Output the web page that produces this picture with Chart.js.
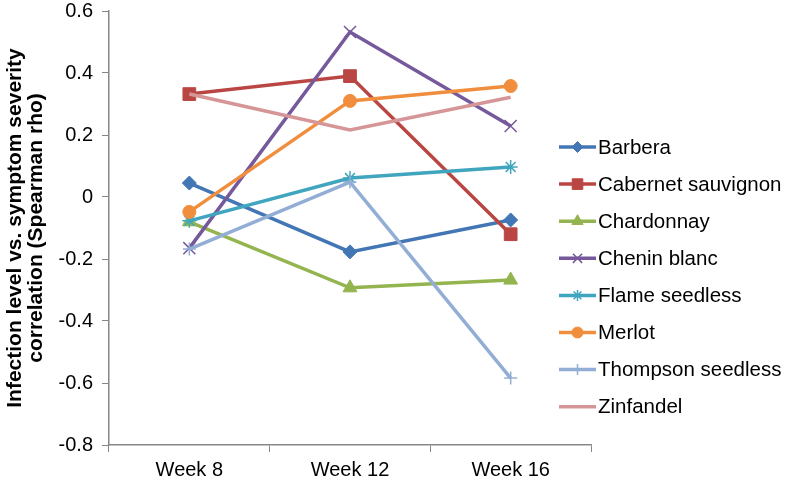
<!DOCTYPE html>
<html>
<head>
<meta charset="utf-8">
<script src="https://cdn.jsdelivr.net/npm/chart.js@4.4.1/dist/chart.umd.min.js"></script>
<style>
html,body{margin:0;padding:0;background:#fff;}
#wrap{width:788px;height:485px;}
</style>
</head>
<body>
<div id="wrap"><canvas id="c" width="788" height="485"></canvas></div>
<script>
const categories = ["Week 8", "Week 12", "Week 16"];
const seriesNames = ["Barbera", "Cabernet sauvignon", "Chardonnay", "Chenin blanc", "Flame seedless", "Merlot", "Thompson seedless", "Zinfandel"];
const barbera = [0.045, -0.177, -0.074];
const cabernet = [0.332, 0.39, -0.12];
const chardonnay = [-0.08, -0.293, -0.268];
const chenin = [-0.165, 0.532, 0.229];
const flame = [-0.077, 0.061, 0.097];
const merlot = [-0.048, 0.31, 0.358];
const thompson = [-0.168, 0.048, -0.584];
const zinfandel = [0.332, 0.216, 0.322];
const yTicks = [0.6, 0.4, 0.2, 0, -0.2, -0.4, -0.6, -0.8];

const seriesValues = [barbera, cabernet, chardonnay, chenin, flame, merlot, thompson, zinfandel];
const colors = ["#4276B4", "#BA4643", "#93B44F", "#76599B", "#40A5BE", "#F08E3E", "#93AED5", "#D69697"];
const styles = [
  {pointStyle: "rectRot", radius: 7, bw: 1, lr: 5.5},
  {pointStyle: "rect", radius: 9, bw: 1, lr: 7.5},
  {pointStyle: "triangle", radius: 8, bw: 1, lr: 6.5},
  {pointStyle: "crossRot", radius: 8.5, bw: 1.5, lr: 6.5},
  {pointStyle: "star", radius: 7, bw: 1.5, lr: 5.5},
  {pointStyle: "circle", radius: 6.5, bw: 1, lr: 5.5},
  {pointStyle: "cross", radius: 6.5, bw: 1.5, lr: 5.5},
  {pointStyle: false, radius: 0, bw: 0, lr: 0}
];

const datasets = seriesNames.map((name, i) => ({
  label: name,
  data: seriesValues[i],
  borderColor: colors[i],
  backgroundColor: colors[i],
  borderWidth: 3.5,
  pointStyle: styles[i].pointStyle,
  pointRadius: styles[i].radius,
  pointHoverRadius: styles[i].radius,
  pointBorderWidth: styles[i].bw,
  pointBorderColor: colors[i],
  pointBackgroundColor: colors[i],
  tension: 0,
  fill: false,
  order: seriesNames.length - i
}));

const legendPlugin = {
  id: "customLegend",
  afterDraw(chart) {
    const ctx = chart.ctx;
    const x0 = 559, x1 = 596, tx = 598, y0 = 147, dy = 37.1;
    ctx.save();
    chart.data.datasets.forEach((ds, i) => {
      const y = y0 + i * dy;
      ctx.strokeStyle = ds.borderColor;
      ctx.lineWidth = 3.5;
      ctx.beginPath();
      ctx.moveTo(x0, y);
      ctx.lineTo(x1, y);
      ctx.stroke();
      if (ds.pointStyle) {
        ctx.fillStyle = ds.pointBackgroundColor;
        ctx.strokeStyle = ds.pointBorderColor;
        ctx.lineWidth = ds.pointBorderWidth;
        Chart.helpers.drawPoint(ctx, {pointStyle: ds.pointStyle, radius: styles[i].lr, rotation: 0, borderWidth: ds.pointBorderWidth}, (x0 + x1) / 2, y);
      }
      ctx.fillStyle = "#000";
      ctx.font = "20.5px 'Liberation Sans', Arial, sans-serif";
      ctx.textBaseline = "middle";
      ctx.textAlign = "left";
      ctx.fillText(ds.label, tx, y + 1);
    });
    ctx.restore();
  }
};

new Chart(document.getElementById("c"), {
  type: "line",
  data: {labels: categories, datasets: datasets},
  options: {
    responsive: false,
    animation: false,
    devicePixelRatio: 1,
    layout: {padding: {top: 11, right: 197, left: 0, bottom: 0}},
    plugins: {legend: {display: false}, tooltip: {enabled: false}, title: {display: false}},
    scales: {
      x: {
        offset: true,
        grid: {display: true, offset: true, drawOnChartArea: false, tickLength: 7, color: "#878787", lineWidth: 1},
        border: {display: true, color: "#878787", width: 1.5},
        ticks: {color: "#000", font: {family: "'Liberation Sans', Arial, sans-serif", size: 20}, padding: 6, maxRotation: 0},
        afterFit(scale) { scale.height = 40; scale.paddingLeft = 0; scale.paddingRight = 0; }
      },
      y: {
        min: -0.8,
        max: 0.6,
        afterBuildTicks(scale) { scale.ticks = yTicks.map(v => ({value: v})); },
        grid: {display: true, drawOnChartArea: false, tickLength: 7, color: "#878787", lineWidth: 1},
        border: {display: true, color: "#878787", width: 1.5},
        ticks: {
          color: "#000",
          font: {family: "'Liberation Sans', Arial, sans-serif", size: 20},
          padding: 9,
          callback: (v) => String(Math.round(v * 10) / 10)
        },
        title: {
          display: true,
          text: ["Infection level vs. symptom severity", "correlation (Spearman rho)"],
          color: "#000",
          font: {family: "'Liberation Sans', Arial, sans-serif", size: 21, weight: "bold", lineHeight: 1.0},
          padding: {top: 5, bottom: 0}
        },
        afterFit(scale) { scale.width = 109; scale.paddingTop = 0; scale.paddingBottom = 0; }
      }
    }
  },
  plugins: [legendPlugin]
});
</script>
</body>
</html>
